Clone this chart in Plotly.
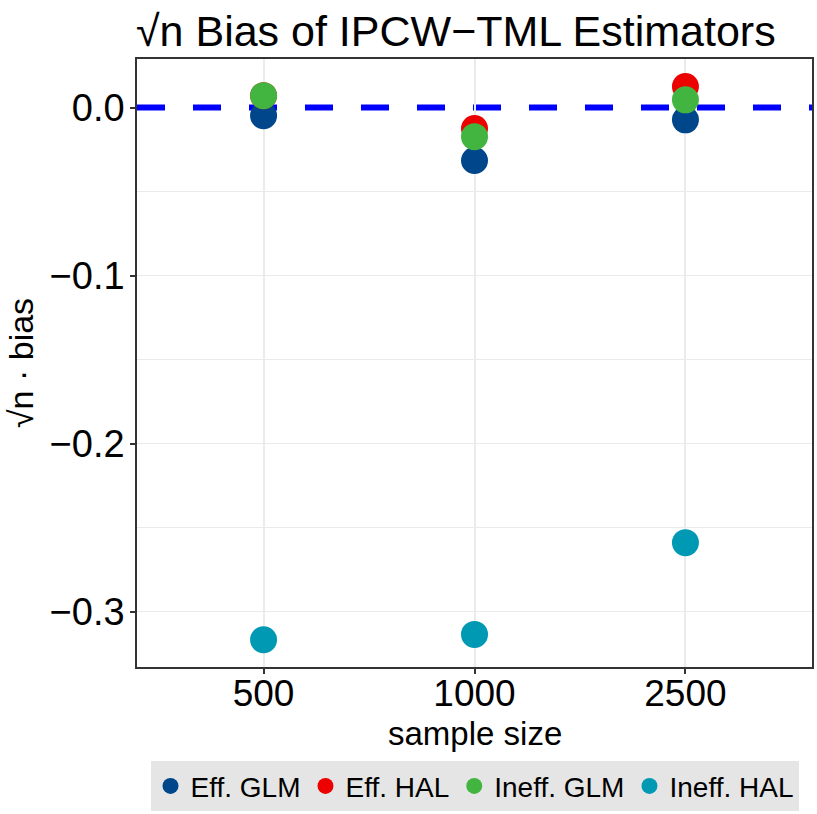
import plotly.graph_objects as go

sample_sizes = ["500", "1000", "2500"]
series_names = ["Eff. GLM", "Eff. HAL", "Ineff. GLM", "Ineff. HAL"]
eff_glm = [-0.0048, -0.0315, -0.0073]
eff_hal = [0.0071, -0.0125, 0.0125]
ineff_glm = [0.0071, -0.0173, 0.0046]
ineff_hal = [-0.3167, -0.3135, -0.2589]
series_values = [eff_glm, eff_hal, ineff_glm, ineff_hal]
colors = ["#00468B", "#ED0000", "#42B540", "#0099B4"]
y_ticks = [0.0, -0.1, -0.2, -0.3]
y_tick_labels = ["0.0", "\u22120.1", "\u22120.2", "\u22120.3"]
y_grid = [-0.3, -0.25, -0.2, -0.15, -0.1, -0.05]

FONT = "Liberation Sans, Arial, Helvetica, sans-serif"

fig = go.Figure()
for name, vals, col in zip(series_names, series_values, colors):
    fig.add_trace(go.Scatter(
        x=sample_sizes, y=vals, mode="markers", name=name,
        marker=dict(size=27, color=col, line=dict(width=0)),
    ))

fig.add_hline(y=0, line=dict(color="#0000FF", width=6, dash="28px,28px"), layer="below")

fig.update_layout(
    width=817, height=814,
    margin=dict(l=137, r=5, t=59, b=147, autoexpand=False),
    paper_bgcolor="white", plot_bgcolor="white",
    font=dict(family=FONT, color="black"),
    title=dict(text="\u221an Bias of IPCW\u2212TML Estimators", x=136/817, xanchor="left",
               y=1 - 31/814, yanchor="middle", font=dict(size=43, color="black")),
    showlegend=True,
    legend=dict(orientation="h", x=0.5, xanchor="center", y=-0.155, yanchor="top",
                bgcolor="#E5E5E5", font=dict(size=28, color="black"),
                itemsizing="trace", traceorder="normal", itemwidth=30,
                tracegroupgap=0),
    annotations=[dict(text="sample size", xref="paper", yref="paper",
                      x=0.5, y=-(733 - 666.7) / 607.7, xanchor="center", yanchor="middle",
                      showarrow=False, font=dict(size=33, color="black"))],
)

fig.update_xaxes(
    type="category", range=[-0.6, 2.6],
    showline=True, linecolor="#333333", linewidth=1.5, mirror=True,
    ticks="outside", ticklen=5, tickcolor="#333333", tickwidth=1.5,
    tickfont=dict(size=37, color="black"), ticklabelstandoff=-12,
    showgrid=True, gridcolor="#EBEBEB", gridwidth=1.5, zeroline=False,
)
fig.update_yaxes(
    range=[-0.3329, 0.0289],
    tickvals=y_ticks, ticktext=y_tick_labels,
    showline=True, linecolor="#333333", linewidth=1.5, mirror=True,
    ticks="outside", ticklen=5, tickcolor="#333333", tickwidth=1.5,
    tickfont=dict(size=38, color="black"), ticklabelstandoff=-2,
    showgrid=False, zeroline=False,
    minor=dict(tickvals=y_grid, showgrid=True, gridcolor="#EBEBEB", gridwidth=1.3, ticks=""),
    title=dict(text="\u221an \u00b7 bias", font=dict(size=34, color="black"), standoff=6),
)

fig.write_html("out.html")
